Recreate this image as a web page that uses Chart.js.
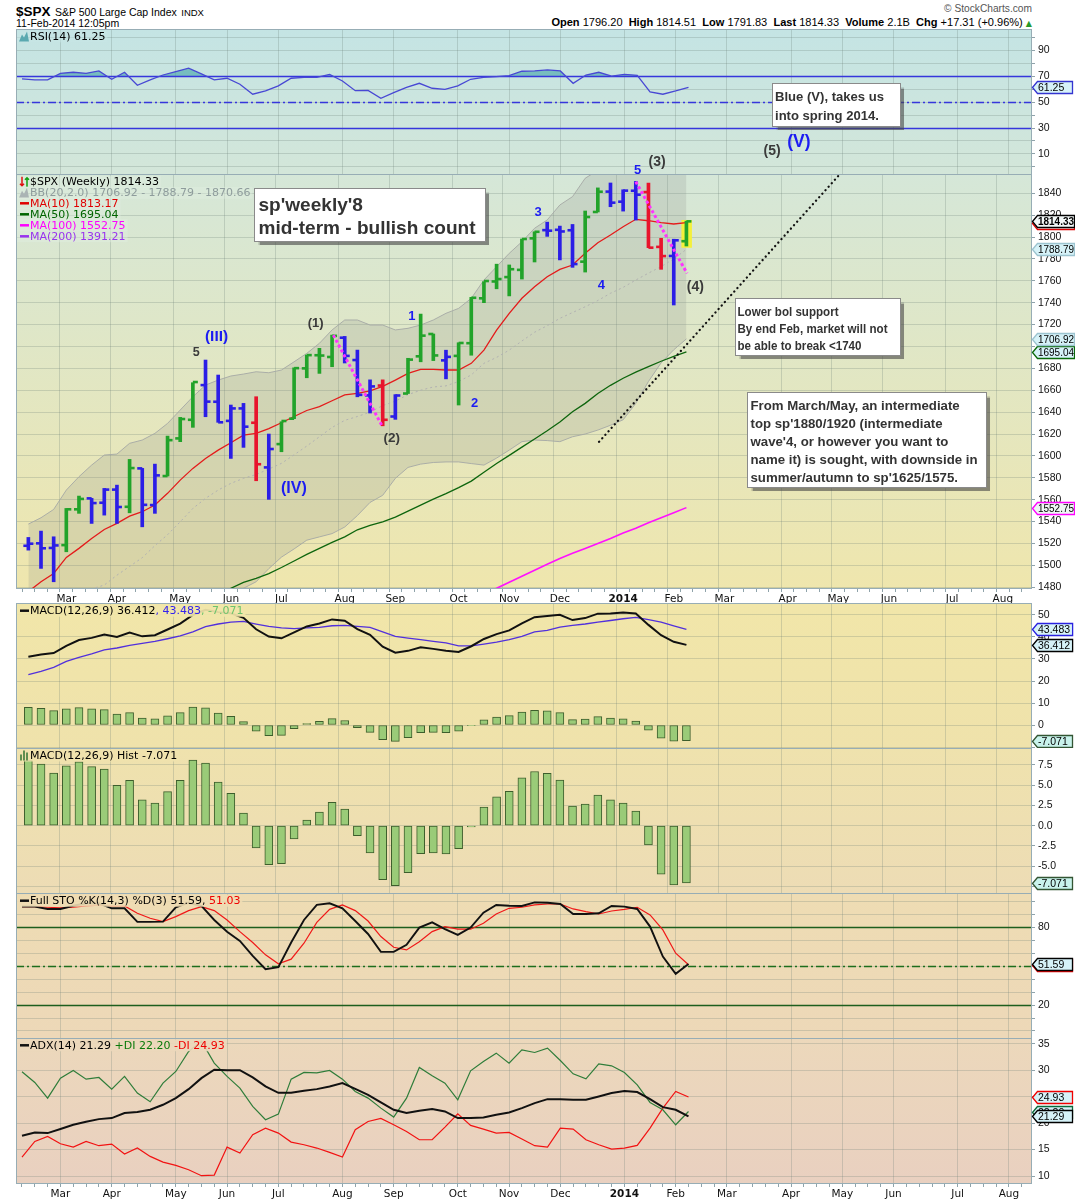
<!DOCTYPE html>
<html><head><meta charset="utf-8"><title>$SPX weekly</title>
<script src="https://cdn.jsdelivr.net/npm/chart.js@4.4.1/dist/chart.umd.min.js"></script>
<style>
html,body{margin:0;padding:0;background:#fff;}
body{width:1075px;height:1200px;position:relative;overflow:hidden;font-family:'Liberation Sans',Arial,sans-serif;color:#000;}
canvas{position:absolute;left:0;}
.h{position:absolute;white-space:nowrap;line-height:1;}
</style></head><body>
<div class="h" style="left:16px;top:3px;"><b style="font-size:13.5px">$SPX</b> <span style="font-size:10.5px">S&amp;P 500 Large Cap Index</span> <span style="font-size:9.5px">INDX</span></div>
<div class="h" style="left:16px;top:18px;font-size:10.5px;">11-Feb-2014 12:05pm</div>
<div class="h" id="sc" style="right:43px;top:4px;font-size:11.5px;color:#555;">© StockCharts.com</div>
<div class="h" id="quote" style="right:43px;top:17px;font-size:11px;"><b>Open</b> 1796.20&nbsp; <b>High</b> 1814.51&nbsp; <b>Low</b> 1791.83&nbsp; <b>Last</b> 1814.33&nbsp; <b>Volume</b> 2.1B&nbsp; <b>Chg</b> +17.31 (+0.96%) <span style="font-family:'DejaVu Sans';color:#2a9a2a;font-size:8px">▲</span></div>
<canvas id="cRsi" width="1075" height="145" style="top:29px"></canvas>
<canvas id="cMain" width="1075" height="603" style="top:0px"></canvas>
<canvas id="cMacd" width="1075" height="145" style="top:603px"></canvas>
<canvas id="cHist" width="1075" height="145" style="top:748px"></canvas>
<canvas id="cSto" width="1075" height="145" style="top:893px"></canvas>
<canvas id="cAdx" width="1075" height="162" style="top:1038px"></canvas>
<script>
// ---------------- DATA (weekly bars, Monday dates) ----------------
const weeks = ['2013-02-11','2013-02-18','2013-02-25','2013-03-04','2013-03-11','2013-03-18','2013-03-25','2013-04-01','2013-04-08','2013-04-15',
'2013-04-22','2013-04-29','2013-05-06','2013-05-13','2013-05-20','2013-05-27','2013-06-03','2013-06-10','2013-06-17','2013-06-24',
'2013-07-01','2013-07-08','2013-07-15','2013-07-22','2013-07-29','2013-08-05','2013-08-12','2013-08-19','2013-08-26','2013-09-02',
'2013-09-09','2013-09-16','2013-09-23','2013-09-30','2013-10-07','2013-10-14','2013-10-21','2013-10-28','2013-11-04','2013-11-11',
'2013-11-18','2013-11-25','2013-12-02','2013-12-09','2013-12-16','2013-12-23','2013-12-30','2014-01-06','2014-01-13','2014-01-20',
'2014-01-27','2014-02-03','2014-02-10'];
const monthIdx = [3,7,12,16,20,25,29,34,38,42,47,51,55,60,64,68,73,77];
const monthLabels = ['Mar','Apr','May','Jun','Jul','Aug','Sep','Oct','Nov','Dec','2014','Feb','Mar','Apr','May','Jun','Jul','Aug'];

const open = [1517.9,1520.1,1515.9,1518.5,1551.2,1561.2,1557.2,1569.2,1553.5,1588.6,
1555.1,1581.6,1616.0,1633.0,1664.7,1649.5,1632.0,1643.4,1630.3,1589.5,
1610.8,1634.0,1680.0,1692.0,1690.4,1708.0,1687.6,1655.3,1664.3,1636.0,
1657.0,1691.0,1711.4,1687.3,1691.4,1703.0,1744.0,1759.4,1763.4,1770.0,
1798.8,1806.3,1806.6,1806.2,1777.5,1822.9,1841.5,1832.3,1842.3,1841.1,
1791.0,1782.7,1796.2];
const high = [1525.5,1531.3,1526.1,1552.0,1563.3,1561.2,1570.3,1573.3,1596.8,1588.6,
1592.5,1618.1,1635.2,1666.9,1687.6,1673.9,1646.5,1648.0,1654.1,1620.0,
1631.2,1680.5,1692.2,1698.3,1710.4,1709.2,1696.7,1669.5,1669.5,1656.0,
1689.2,1729.6,1711.4,1696.6,1703.4,1744.9,1759.2,1775.2,1774.5,1798.2,
1804.8,1813.6,1810.0,1811.5,1823.8,1844.9,1849.4,1843.2,1850.8,1849.3,
1798.8,1798.0,1814.5];
const low = [1513.9,1497.2,1485.0,1512.4,1547.5,1538.3,1545.9,1538.3,1548.0,1535.2,
1547.5,1581.6,1613.0,1626.1,1635.8,1630.7,1597.7,1607.8,1577.3,1560.3,
1603.8,1634.0,1671.4,1675.4,1681.5,1684.9,1654.0,1639.2,1627.5,1633.4,
1657.0,1686.0,1687.1,1670.4,1646.5,1692.0,1740.0,1752.7,1746.2,1761.6,
1777.2,1800.6,1779.1,1772.3,1768.0,1822.9,1827.7,1823.7,1815.5,1790.3,
1770.5,1737.9,1791.8];
const close = [1519.8,1515.6,1518.2,1551.2,1560.7,1556.9,1569.2,1553.3,1588.9,1555.3,
1582.2,1614.4,1633.7,1667.5,1649.6,1630.7,1643.4,1626.7,1592.4,1606.3,
1631.9,1680.2,1692.1,1691.7,1709.7,1691.4,1655.8,1663.5,1633.0,1655.2,
1688.0,1709.9,1691.8,1690.5,1703.2,1744.5,1759.8,1761.6,1770.6,1798.2,
1804.8,1805.8,1805.1,1775.3,1818.3,1841.4,1831.4,1842.4,1838.7,1790.3,
1782.6,1797.0,1814.33];
// bar colouring state: g = green, r = red, b = blue
const impulse = ['b','b','b','g','g','b','b','b','g','b',
'b','g','g','g','b','b','b','b','r','b',
'g','g','g','g','g','b','b','b','r','b',
'g','g','g','b','g','g','g','g','g','g',
'g','b','b','b','g','g','b','b','b','r',
'r','b','g'];

const ma10 = [1476,1485,1492.6,1507.3,1515.5,1524.6,1532.8,1538.3,1545,1549,
1555.1,1565.8,1577.9,1588.6,1597.7,1605.3,1612,1619,1620.6,1625,
1630.3,1636,1641.5,1645,1650.4,1655.8,1657.2,1659.5,1663.5,1669.3,
1675.4,1679.1,1679.1,1678.5,1678.5,1684.6,1696.7,1715,1730.3,1744,
1754.6,1763.7,1770.5,1774.4,1785.1,1794.8,1801.8,1809.4,1816.2,1814.9,
1813.1,1811.9,1813.17];
const ma50 = [1392,1397,1401,1406,1412,1417,1421,1427,1432,1436,
1442,1448,1453,1459,1465,1471,1479,1484.4,1488,1492.5,
1498,1504,1510,1515.5,1521,1526,1532.5,1536.5,1539.7,1544,
1549.5,1555,1560.5,1565.5,1571,1577,1585,1593,1600.5,1608,
1615.5,1623,1631,1640.3,1648,1657,1664.5,1671,1676.5,1681.5,
1686.5,1691,1695.04];
const ma100 = [1330,1334,1338,1341,1345,1348,1352,1355,1359,1362,
1366,1369,1373,1377,1380,1384,1388,1391,1395,1399,
1403,1407,1411,1415,1419,1423,1427,1432,1436,1440,
1445,1450,1455,1460,1465,1470,1474,1479,1484.5,1490,
1495.5,1501,1506.3,1511,1515.5,1520,1524.5,1529.5,1534,1539,
1543.5,1548,1552.75];
const ma200Last = 1391.21;
const bbMid = [1462,1466,1470,1473,1476,1478.5,1482,1491,1499,1507,
1518,1528,1539.8,1552,1561.2,1568.8,1574.9,1579.5,1583,1588,
1593.2,1601,1609,1617.5,1626,1632.5,1636,1640,1646,1650,
1656,1660,1663,1664,1668,1674,1684.6,1690,1696.7,1705,
1713,1719,1725.7,1731,1736.3,1742,1748.6,1754,1760.7,1767,
1773,1780,1788.79];
const bbUpper = [1537.7,1543.5,1551.1,1568.8,1581,1591.6,1600.8,1601.7,1611.5,1614.5,
1620.6,1629.7,1641.9,1654.1,1664.7,1669.3,1673,1674.8,1676.9,1676,
1678.5,1686,1693.7,1702.9,1715.1,1724.2,1724.2,1719.6,1719.6,1715.1,
1716.6,1719.6,1724.2,1730.3,1734.8,1744,1760.7,1772.9,1785.1,1795.7,
1808,1815.6,1829.3,1836.9,1853.7,1861,1866,1869,1871,1873,
1872.5,1871.5,1870.66];
const bbLower = [1386,1389,1389,1377,1371,1365,1363,1380,1386,1399,
1415,1426,1438,1450,1458,1468,1473,1479,1485,1497,
1507.5,1515,1523,1526,1529,1535,1545.5,1557.5,1564,1579.5,
1589.5,1592.5,1594,1594.5,1594.5,1593,1591.6,1598,1605.3,1613,
1614.5,1614,1613,1617.5,1620,1623.6,1628,1633,1648,1668,
1685,1697,1706.92];

const rsi = [67.8,67.0,67.0,72.1,72.9,72.1,73.9,67.5,72.9,62.9,
67.0,70.8,73.4,76.0,71.6,67.0,68.3,63.7,56.0,58.5,
62.4,68.3,69.0,69.0,71.3,66.2,58.7,59.0,52.9,57.2,
61.3,64.4,60.6,59.8,62.4,67.5,69.0,69.5,70.3,73.7,
73.9,74.7,73.9,64.4,70.8,72.9,70.0,71.3,70.6,57.7,
56.0,58.5,61.25];
const macd = [31.0,32.0,32.7,36.0,38.6,39.6,41.1,40.0,42.0,40.3,
40.8,43.4,46.1,50.0,52.4,51.3,50.8,48.7,43.5,40.2,
39.4,42.1,44.8,46.1,48.0,47.4,43.6,41.0,35.6,32.9,
33.7,35.3,34.6,33.8,33.2,35.8,39.1,41.3,43.0,46.2,
49.0,49.5,50.1,47.7,48.6,50.6,50.7,51.1,50.7,45.5,
40.8,37.8,36.412];
const signal = [22.9,24.4,26.2,28.9,30.7,32.3,34.1,35.0,36.2,37.1,
38.0,39.2,40.5,42.3,44.7,45.9,46.8,47.1,45.9,44.8,
44.1,43.8,44.1,44.4,45.1,45.3,44.8,44.4,42.3,40.3,
39.5,38.8,38.0,37.3,36.0,36.0,36.8,37.7,38.8,40.3,
42.3,43.0,44.5,45.3,45.9,46.8,47.5,48.3,48.9,47.9,
46.8,45.1,43.483];
const hist = [8.07,7.6,6.5,7.4,7.9,7.3,7.0,5.0,5.6,3.2,
2.8,4.2,5.6,8.1,7.75,5.4,4.0,1.57,-2.76,-4.82,
-4.7,-1.65,0.7,1.69,2.9,2.06,-1.24,-3.38,-6.67,-7.42,
-5.81,-3.46,-3.38,-3.5,-2.84,-0.16,2.31,3.55,4.24,5.9,
6.7,6.47,5.65,2.43,2.68,3.79,3.18,2.8,1.81,-2.39,
-5.98,-7.33,-7.071];
const stoK = [96.0,95.9,94.1,94.1,96.6,98.5,98.5,94.6,94.6,84.1,
84.1,84.3,95.4,98.9,96.4,85.6,76.6,69.5,57.9,47.7,
49.2,68.2,85.6,97.2,98.5,94.6,84.8,74.8,61.0,61.0,
66.4,79.7,83.8,78.5,74.1,79.7,91.2,97.2,96.6,96.4,
99.2,98.9,97.9,90.2,90.2,90.8,96.4,95.9,94.1,80.5,
57.4,44.1,51.59];
const stoD = [95.9,95.9,95.4,94.9,95.4,96.4,97.0,96.4,96.4,90.8,
86.9,84.3,88.2,92.8,95.9,92.8,85.6,76.6,68.2,58.7,
51.8,55.4,67.7,83.8,93.8,97.2,92.8,84.8,72.8,64.6,
62.5,68.9,76.6,80.5,78.5,78.5,83.1,90.2,94.6,95.4,
97.2,97.9,97.9,94.1,92.0,90.2,92.5,93.8,95.4,89.5,
77.9,60.0,51.03];
const adx = [17.62,18.24,18.12,18.88,19.69,20.26,20.76,20.95,21.9,22.09,
22.53,23.47,24.73,26.43,28.51,30.09,30.02,30.02,28.64,26.94,
25.74,25.74,26.12,26.43,26.94,27.57,26.49,25.36,23.91,22.53,
21.9,22.34,22.65,22.21,20.95,20.95,21.08,21.58,22.02,22.84,
23.79,24.54,24.54,24.42,24.42,25.05,25.68,26.06,25.87,24.54,
23.03,22.53,21.29];
const plusDI = [29.71,27.69,24.73,28.51,29.96,28.32,28.64,26.43,28.83,25.68,
24.04,27.57,29.77,33.55,35.5,31.35,28.83,26.62,23.16,20.64,
21.71,28.32,29.58,29.52,29.96,28.32,25.99,24.73,22.84,21.14,
24.73,30.53,28.95,27.57,24.42,29.9,31.66,33.24,31.35,33.87,
33.36,34.18,31.85,29.33,28.39,31.22,30.84,29.58,27.25,23.91,
22.53,19.69,22.20];
const minusDI = [13.58,16.54,17.49,16.1,15.47,16.54,15.73,16.04,14.15,15.29,
13.71,12.64,12.01,11.19,10.06,10.18,15.47,14.34,17.8,19.06,
18.12,16.42,15.91,15.29,14.47,13.58,18.75,20.32,20.89,19.69,
18.43,16.86,16.86,19.25,21.77,19.57,18.88,18.12,18.24,16.99,
15.73,15.47,19.06,18.88,16.86,15.91,15.1,15.29,15.79,19.06,
22.84,25.99,24.93];

// tick values of the right-hand axes
const rsiTicks = [0,10,20,30,40,50,60,70,80,90,100];
const mainTicks = [1480,1500,1520,1540,1560,1580,1600,1620,1640,1660,1680,1700,1720,1740,1760,1780,1800,1820,1840];
const macdTicks = [-10,0,10,20,30,40,50];
const histTicks = [-7.5,-5,-2.5,0,2.5,5,7.5];
const stoTicks = [0,10,20,30,40,50,60,70,80,90,100];
const adxTicks = [10,15,20,25,30,35];

// annotations drawn on the price panel (week index, price)
const trendMagenta1 = [{x:24.1,y:1710.4},{x:28.0,y:1626.4}];
const trendMagenta2 = [{x:48.0,y:1850.6},{x:52.05,y:1766.8}];
const trendDotted = [{x:45.1,y:1612.9},{x:64.0,y:1855.8}];
const waveLabels = [
 {t:'5',x:13.26,y:1694,c:'g',s:12.5},{t:'(III)',x:14.87,y:1709,c:'b',s:15.5},{t:'(IV)',x:20.98,y:1569.7,c:'b',s:16},
 {t:'(1)',x:22.7,y:1721.4,c:'g',s:13},{t:'(2)',x:28.71,y:1616.3,c:'g',s:13.5},{t:'1',x:30.31,y:1727.2,c:'b',s:13},
 {t:'2',x:35.27,y:1648,c:'b',s:13},{t:'3',x:40.28,y:1822.1,c:'b',s:13},{t:'4',x:45.28,y:1756.1,c:'b',s:13},
 {t:'5',x:48.14,y:1860.6,c:'b',s:13},{t:'(3)',x:49.68,y:1868.6,c:'g',s:14},{t:'(4)',x:52.7,y:1754.1,c:'g',s:14},
 {t:'(5)',x:58.77,y:1878.8,c:'g',s:14},{t:'(V)',x:60.89,y:1886.4,c:'b',s:17.5}];
const notes = [
 {x0:17.81,y0:1844.8,x1:36.09,y1:1796.4,pad:4,base:22,lh:23.3,fs:19,tw:217,lines:["sp'weekly'8","mid-term - bullish count"]},
 {x0:58.79,y0:1940.5,x1:68.85,y1:1901.7,pad:2.5,base:17.7,lh:18.3,fs:13.5,tw:109,lines:["Blue (V), takes us","into spring 2014."]},
 {x0:55.84,y0:1744,x1:68.84,y1:1692.2,pad:2,base:17,lh:17,fs:13,tw:150,lines:["Lower bol support","By end Feb, market will not","be able to break <1740"]},
 {x0:56.82,y0:1658.6,x1:75.66,y1:1571.8,pad:3,base:17.6,lh:17.9,fs:13.5,tw:227,lines:["From March/May, an intermediate","top sp'1880/1920 (intermediate","wave'4, or however you want to","name it) is sought, with downside in","summer/autumn to sp'1625/1575."]}];

// ---------------- RENDERING ----------------
const FONT = "'DejaVu Sans', sans-serif";
const AXF = "'Liberation Sans', Arial, sans-serif";
const NOTEF = "'Liberation Sans', Arial, sans-serif";
const X_MIN = -0.468, X_MAX = 78.8;
const GRID = 'rgba(105,125,115,0.25)';
const BORDER = '#97adb5';
const IMP = {g:'#22a32a', r:'#e8142c', b:'#2b1ee6'};
const last = a => a[a.length-1];
const pts = a => a.map((v,i)=>({x:i,y:v}));
const weekTicks = []; for (let i = 0; i <= 78; i++) weekTicks.push(i);
Chart.defaults.font.family = FONT;

function noPad(s) { s.paddingTop = 0; s.paddingBottom = 0; s.paddingLeft = 0; s.paddingRight = 0; }
function xAxis(h, labels) {
  return {
    type:'linear', min:X_MIN, max:X_MAX,
    afterBuildTicks: s => { s.ticks = weekTicks.map(v=>({value:v})); },
    afterFit: s => { s.height = h; noPad(s); },
    border:{display:false},
    grid:{ color: c => (c.tick && monthIdx.indexOf(c.tick.value) >= 0) ? GRID : 'rgba(0,0,0,0)',
           drawTicks: labels, tickLength: 4, tickColor: '#8fa3aa', lineWidth: 1 },
    ticks:{ display: labels, autoSkip:false, maxRotation:0, minRotation:0, padding:1, color:'#111',
      callback: v => { const k = monthIdx.indexOf(v); return k >= 0 ? monthLabels[k] : ''; },
      font: c => { const k = c.tick ? monthIdx.indexOf(c.tick.value) : -1;
        return {family:FONT, size:10.5, weight: (k >= 0 && monthLabels[k] === '2014') ? 'bold' : 'normal'}; } }
  };
}
function yAxis(min, max, ticks, labelFn) {
  return { position:'right', min, max,
    afterBuildTicks: s => { s.ticks = ticks.map(v=>({value:v})); },
    afterFit: s => { s.width = 43; noPad(s); },
    border:{display:false},
    grid:{ color: GRID, drawTicks:true, tickLength:3, tickColor:'#8fa3aa' },
    ticks:{ padding:3, color:'#111', autoSkip:false, font:{family:AXF, size:10.5}, callback: labelFn } };
}
function baseOpts(o) {
  return { responsive:false, animation:false, events:[],
    layout:{padding:{left:16, right:0, top:o.padTop||0, bottom:0}},
    plugins:{legend:{display:false}, tooltip:{enabled:false}, filler:{drawTime:'beforeDatasetsDraw', propagate:false}},
    elements:{point:{radius:0}, line:{tension:0}},
    scales:{ x: xAxis(o.xh||0, !!o.xlabels), y: o.y } };
}
function hline(chart, v, color, w, dash) {
  const {ctx, chartArea:a} = chart; const y = Math.round(chart.scales.y.getPixelForValue(v)) + 0.5;
  ctx.save(); ctx.strokeStyle = color; ctx.lineWidth = w; ctx.setLineDash(dash || []);
  ctx.beginPath(); ctx.moveTo(a.left, y); ctx.lineTo(a.right, y); ctx.stroke(); ctx.restore();
}
function drawIcon(ctx, type, col, x, y) {
  ctx.save();
  if (type === 'dash') { ctx.strokeStyle = col; ctx.lineWidth = 2.5; ctx.beginPath(); ctx.moveTo(x+1, y); ctx.lineTo(x+10, y); ctx.stroke(); }
  else if (type === 'mount') { ctx.fillStyle = col; ctx.beginPath(); ctx.moveTo(x, y+5); ctx.lineTo(x+3, y-2); ctx.lineTo(x+5, y+1); ctx.lineTo(x+8, y-5); ctx.lineTo(x+10, y+5); ctx.closePath(); ctx.fill(); }
  else if (type === 'bars') { ctx.fillStyle = '#5f8f4f'; ctx.fillRect(x+1, y-1, 2, 6); ctx.fillRect(x+4, y-5, 2, 10); ctx.fillRect(x+7, y-3, 2, 8); }
  else if (type === 'arrows') { ctx.lineWidth = 1.5;
    ctx.strokeStyle = '#e01010'; ctx.beginPath(); ctx.moveTo(x+3, y-5); ctx.lineTo(x+3, y+4); ctx.moveTo(x+1, y+2); ctx.lineTo(x+3, y+4); ctx.lineTo(x+5, y+2); ctx.stroke();
    ctx.strokeStyle = '#10a010'; ctx.beginPath(); ctx.moveTo(x+8, y+5); ctx.lineTo(x+8, y-4); ctx.moveTo(x+6, y-2); ctx.lineTo(x+8, y-4); ctx.lineTo(x+10, y-2); ctx.stroke(); }
  ctx.restore();
}
function drawLegend(chart, rows, bg) {
  const {ctx, chartArea:a} = chart;
  ctx.save(); ctx.font = '11px ' + FONT; ctx.textBaseline = 'middle'; ctx.textAlign = 'left';
  rows.forEach(r => {
    const y = a.top + r.dy; let x = a.left + 14;
    const w = r.segs.reduce((s, sg) => s + ctx.measureText(sg[0]).width, 0);
    ctx.fillStyle = bg; ctx.fillRect(a.left + 1, y - 6, w + 15, 12);
    drawIcon(ctx, r.icon, r.ic, a.left + 3, y);
    r.segs.forEach(sg => { ctx.fillStyle = sg[1]; ctx.fillText(sg[0], x, y + 0.5); x += ctx.measureText(sg[0]).width; });
  });
  ctx.restore();
}
function drawTag(chart, v, txt, border, bg, bold) {
  const ctx = chart.ctx, a = chart.chartArea, y = Math.round(chart.scales.y.getPixelForValue(v)) + 0.5, x = a.right + 0.5;
  ctx.save();
  ctx.font = (bold ? 'bold ' : '') + '10.5px ' + AXF;
  const w = Math.min(37, Math.max(35, ctx.measureText(txt).width + 3));
  ctx.beginPath(); ctx.moveTo(x, y); ctx.lineTo(x+5, y-6); ctx.lineTo(x+5+w, y-6); ctx.lineTo(x+5+w, y+6); ctx.lineTo(x+5, y+6); ctx.closePath();
  ctx.fillStyle = bg; ctx.fill(); ctx.lineWidth = 1.3; ctx.strokeStyle = border; ctx.stroke();
  ctx.fillStyle = '#000'; ctx.textBaseline = 'middle'; ctx.textAlign = 'left'; ctx.fillText(txt, x + 5.5, y + 0.5, w - 1);
  ctx.restore();
}
function panel(o) {
  return {
    id: 'panel',
    beforeDraw(chart) {
      const {ctx, chartArea:a} = chart;
      const g = ctx.createLinearGradient(0, a.top, 0, a.bottom); g.addColorStop(0, o.bg[0]); g.addColorStop(1, o.bg[1]);
      ctx.save(); ctx.fillStyle = g; ctx.fillRect(a.left, a.top, a.right - a.left, a.bottom - a.top); ctx.restore();
    },
    beforeDatasetsDraw(chart) { if (o.under) o.under(chart); },
    afterDatasetsDraw(chart) { if (o.over) o.over(chart); },
    afterDraw(chart) {
      const {ctx, chartArea:a} = chart;
      ctx.save(); ctx.strokeStyle = BORDER; ctx.lineWidth = 1;
      ctx.strokeRect(a.left + 0.5, a.top + 0.5, a.right - a.left - 1, a.bottom - a.top); ctx.restore();
      drawLegend(chart, o.legend, o.legendBg);
      (o.tags || []).forEach(t => drawTag(chart, t.v, t.txt || t.v.toFixed(2), t.border, t.bg, t.bold));
      if (o.top) o.top(chart);
    }
  };
}
const lineDS = (data, color, width, order, extra) => Object.assign({type:'line', data: pts(data), borderColor: color, borderWidth: width, pointRadius: 0, fill: false, order}, extra || {});
const TAGBG = '#d6f2f8';

// ---------- RSI ----------
new Chart(document.getElementById('cRsi'), {
  type:'line',
  data:{datasets:[ lineDS(rsi, '#4848d4', 1.3, 0, {fill:{value:70, above:'rgba(70,165,170,0.62)', below:'rgba(0,0,0,0)'}}) ]},
  options: baseOpts({ y: yAxis(-5.4, 106.2, rsiTicks, v => [10,30,50,70,90].includes(v) ? String(v) : '') }),
  plugins:[panel({ bg:['#c4e4e4','#d3e6d9'],
    under: c => { hline(c, 70, '#3636dc', 1.3); hline(c, 30, '#3636dc', 1.3); hline(c, 50, '#3636dc', 1.3, [8,3,2,3]); },
    legend:[{dy:7.5, icon:'mount', ic:'#5aa9b0', segs:[['RSI(14) ' + last(rsi).toFixed(2), '#000']]}], legendBg:'rgba(200,230,230,0.5)',
    tags:[{v:last(rsi), border:'#3434d0', bg:TAGBG}] })]
});

// ---------- PRICE ----------
const barCols = impulse.map(k => IMP[k]);
new Chart(document.getElementById('cMain'), {
  type:'line',
  data:{datasets:[
    {type:'line', data: trendMagenta1, borderColor:'#ff33ff', borderWidth:3, borderDash:[3,2.5], pointRadius:0, order:0},
    {type:'line', data: trendMagenta2, borderColor:'#ff33ff', borderWidth:3, borderDash:[3,2.5], pointRadius:0, order:0},
    {type:'line', data: trendDotted, borderColor:'#111', borderWidth:2.3, borderDash:[0.1,4.6], borderCapStyle:'round', pointRadius:0, order:0},
    {type:'line', data: pts(open), showLine:false, pointStyle:'dash', pointRotation:180, pointRadius:5, pointBorderWidth:2.6, pointBorderColor: barCols, order:1},
    {type:'line', data: pts(close), showLine:false, pointStyle:'dash', pointRotation:0, pointRadius:5, pointBorderWidth:2.6, pointBorderColor: barCols, order:1},
    {type:'bar', data: low.map((l,i)=>({x:i, y:[l, high[i]]})), backgroundColor: barCols, borderWidth:0, barThickness:3, order:2},
    lineDS(ma10, '#e41b1b', 1.3, 4),
    lineDS(ma50, '#0d650d', 1.3, 5),
    lineDS(ma100, '#ff10ff', 1.6, 5),
    lineDS(bbMid, '#b2b2b2', 1, 6, {borderDash:[2,3]}),
    lineDS(bbUpper, 'rgba(165,168,165,0.9)', 1, 7),
    lineDS(bbLower, 'rgba(165,168,165,0.9)', 1, 7, {fill:'-1', backgroundColor:'rgba(135,138,135,0.2)'})
  ]},
  options: baseOpts({ padTop:174, xh:15, xlabels:true, y: yAxis(1479.3, 1857.6, mainTicks, v => String(v)) }),
  plugins:[panel({ bg:['#d5e7d8','#efe6ad'],
    under: c => { // highlight of the current bar
      const ctx = c.ctx, x = c.scales.x.getPixelForValue(weeks.length - 1), yt = c.scales.y.getPixelForValue(last(high) + 1.1), yb = c.scales.y.getPixelForValue(last(low) - 1.6);
      ctx.save(); ctx.fillStyle = '#f4f03a'; ctx.fillRect(x - 5, yt, 10.5, yb - yt); ctx.restore(); },
    over: c => {
      const ctx = c.ctx; ctx.save(); ctx.textAlign = 'center'; ctx.textBaseline = 'middle';
      waveLabels.forEach(w => { ctx.font = 'bold ' + w.s + 'px ' + NOTEF; ctx.fillStyle = w.c === 'b' ? '#1c1cf2' : '#3a3a3a';
        ctx.fillText(w.t, c.scales.x.getPixelForValue(w.x), c.scales.y.getPixelForValue(w.y)); });
      ctx.restore(); },
    top: c => {
      const ctx = c.ctx, xs = c.scales.x, ys = c.scales.y;
      notes.forEach(n => {
        const x0 = Math.round(xs.getPixelForValue(n.x0)) + 0.5, x1 = Math.round(xs.getPixelForValue(n.x1)) + 0.5;
        const y0 = Math.round(ys.getPixelForValue(n.y0)) + 0.5, y1 = Math.round(ys.getPixelForValue(n.y1)) + 0.5;
        ctx.save(); ctx.shadowColor = 'rgba(70,70,70,0.6)'; ctx.shadowOffsetX = 3; ctx.shadowOffsetY = 3; ctx.shadowBlur = 1;
        ctx.fillStyle = '#fff'; ctx.fillRect(x0, y0, x1 - x0, y1 - y0); ctx.restore();
        ctx.save(); ctx.strokeStyle = '#8a8a8a'; ctx.lineWidth = 1; ctx.strokeRect(x0, y0, x1 - x0, y1 - y0);
        ctx.font = 'bold ' + n.fs + 'px ' + NOTEF;
        const longest = Math.max(...n.lines.map(l => ctx.measureText(l).width));
        const sx = n.tw / longest;
        ctx.fillStyle = '#333'; ctx.textBaseline = 'alphabetic'; ctx.textAlign = 'left';
        n.lines.forEach((l, i) => { ctx.save(); ctx.translate(x0 + n.pad, y0 + n.base + i * n.lh); ctx.scale(sx, 1); ctx.fillText(l, 0, 0); ctx.restore(); });
        ctx.restore();
      });
    },
    legend:[
      {dy:7.7, icon:'arrows', segs:[['$SPX (Weekly) ' + last(close).toFixed(2), '#000']]},
      {dy:18.7, icon:'mount', ic:'#aab4b4', segs:[['BB(20,2.0) ' + last(bbLower).toFixed(2) + ' - ' + last(bbMid).toFixed(2) + ' - ' + last(bbUpper).toFixed(2), '#8e9c9c']]},
      {dy:29.3, icon:'dash', ic:'#e00000', segs:[['MA(10) ' + last(ma10).toFixed(2), '#e00000']]},
      {dy:40.3, icon:'dash', ic:'#006400', segs:[['MA(50) ' + last(ma50).toFixed(2), '#006400']]},
      {dy:51.3, icon:'dash', ic:'#ff00ff', segs:[['MA(100) ' + last(ma100).toFixed(2), '#ff00ff']]},
      {dy:62.3, icon:'dash', ic:'#9933ee', segs:[['MA(200) ' + ma200Last.toFixed(2), '#9933ee']]}],
    legendBg:'rgba(225,238,225,0.45)',
    tags:[
      {v:last(ma100), border:'#ff00ff', bg:'#eef6f4'},
      {v:last(ma50), border:'#0a6a0a', bg:TAGBG},
      {v:last(bbLower), border:'#9cc4d0', bg:TAGBG},
      {v:last(bbMid), border:'#9cc4d0', bg:TAGBG},
      {v:last(ma10), border:'#e00000', bg:'#fff'},
      {v:last(close), border:'#000', bg:'#f3f8f8', bold:true}] })]
});

// ---------- MACD ----------
const histBar = (order) => ({type:'bar', data: pts(hist), backgroundColor:'#9acb78', borderColor:'#3d5e2c', borderWidth:1, borderSkipped:false, barThickness:8, order});
new Chart(document.getElementById('cMacd'), {
  type:'line',
  data:{datasets:[ lineDS(macd, '#111', 2, 0), lineDS(signal, '#5130dc', 1.3, 1), histBar(2) ]},
  options: baseOpts({ y: yAxis(-10.45, 55.45, macdTicks, v => v < 0 ? '' : String(v)) }),
  plugins:[panel({ bg:['#f1e6a9','#efe2ab'],
    legend:[{dy:7.7, icon:'dash', ic:'#111', segs:[['MACD(12,26,9) ' + last(macd).toFixed(3), '#000'], [', ' + last(signal).toFixed(3), '#3322ee'], [', ' + last(hist).toFixed(3), '#6cc36c']]}],
    legendBg:'rgba(241,230,169,0.92)',
    tags:[{v:last(signal), txt:last(signal).toFixed(3), border:'#2a22e0', bg:TAGBG}, {v:last(macd), txt:last(macd).toFixed(3), border:'#000', bg:TAGBG}, {v:last(hist), txt:last(hist).toFixed(3), border:'#335533', bg:'#c9f3ec'}] })]
});

// ---------- MACD HIST ----------
new Chart(document.getElementById('cHist'), {
  type:'line',
  data:{datasets:[ histBar(0) ]},
  options: baseOpts({ y: yAxis(-8.32, 9.6, histTicks, v => v.toFixed(1)) }),
  plugins:[panel({ bg:['#efe2ad','#eddcb5'],
    legend:[{dy:7.5, icon:'bars', segs:[['MACD(12,26,9) Hist ' + last(hist).toFixed(3), '#000']]}],
    legendBg:'rgba(239,226,173,0.9)',
    tags:[{v:last(hist), txt:last(hist).toFixed(3), border:'#335533', bg:'#c9f3ec'}] })]
});

// ---------- FULL STO ----------
new Chart(document.getElementById('cSto'), {
  type:'line',
  data:{datasets:[ lineDS(stoK, '#111', 1.9, 0), lineDS(stoD, '#f01818', 1.2, 1) ]},
  options: baseOpts({ y: yAxis(-5.4, 106.4, stoTicks, v => (v === 80 || v === 20) ? String(v) : '') }),
  plugins:[panel({ bg:['#eedcb3','#edd8b8'],
    under: c => { hline(c, 80, '#1d5e1d', 1.3); hline(c, 20, '#1d5e1d', 1.3); hline(c, 50, '#1d6e1d', 1.3, [8,3,2,3]); },
    legend:[{dy:7.7, icon:'dash', ic:'#111', segs:[['Full STO %K(14,3) %D(3) ' + last(stoK).toFixed(2) + ', ', '#000'], [last(stoD).toFixed(2), '#f00000']]}],
    legendBg:'rgba(238,220,179,0.9)',
    tags:[{v:last(stoD), border:'#e00000', bg:TAGBG}, {v:last(stoK), border:'#000', bg:TAGBG}] })]
});

// ---------- ADX ----------
new Chart(document.getElementById('cAdx'), {
  type:'line',
  data:{datasets:[ lineDS(adx, '#111', 2, 0), lineDS(plusDI, '#2f7d3a', 1.2, 1), lineDS(minusDI, '#f21212', 1.2, 2) ]},
  options: baseOpts({ xh:17, xlabels:true, y: yAxis(8.68, 36.1, adxTicks, v => String(v)) }),
  plugins:[panel({ bg:['#ecd8bb','#e9d0c0'],
    legend:[{dy:7.3, icon:'dash', ic:'#111', segs:[['ADX(14) ' + last(adx).toFixed(2) + ' ', '#000'], ['+DI ' + last(plusDI).toFixed(2) + ' ', '#0a7a0a'], ['-DI ' + last(minusDI).toFixed(2), '#f00000']]}],
    legendBg:'rgba(236,216,187,0.9)',
    tags:[{v:last(minusDI), border:'#f00000', bg:TAGBG}, {v:last(plusDI), border:'#0a6a3a', bg:TAGBG}, {v:last(adx), border:'#000', bg:TAGBG}] })]
});

// fit header rows to the plot width
(function(){
  const q = document.getElementById('quote'); const w = q.getBoundingClientRect().width;
  q.style.fontSize = (11 * 481 / w).toFixed(2) + 'px';
  const s = document.getElementById('sc'); const ws = s.getBoundingClientRect().width;
  s.style.fontSize = (11.5 * 88 / ws).toFixed(2) + 'px';
})();
</script>
</body></html>
